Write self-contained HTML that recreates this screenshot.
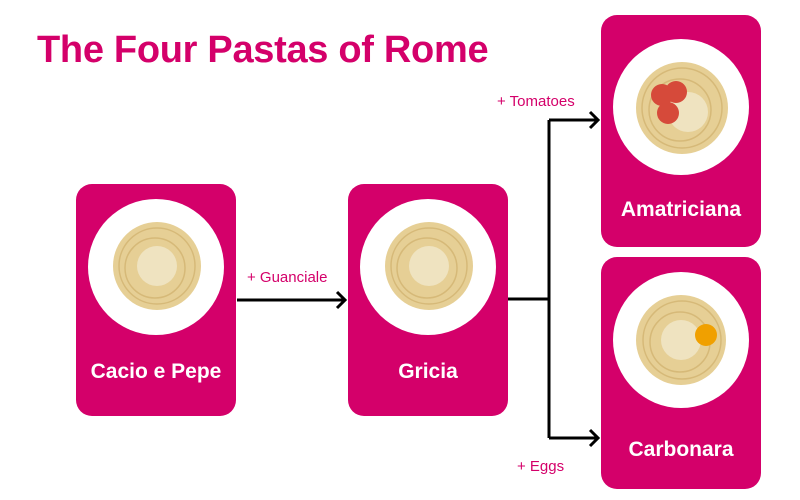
<!DOCTYPE html>
<html><head><style>
body{margin:0;width:800px;height:500px;background:#fff;position:relative;overflow:hidden;font-family:"Liberation Sans",sans-serif}
.t{position:absolute;left:37px;top:29px;font-size:38px;font-weight:bold;color:#d4006a;letter-spacing:-0.3px}
.c{position:absolute;width:160px;height:232px;background:#d4006a;border-radius:16px}
.p{position:absolute;width:136px;height:136px;border-radius:50%;background:#fff;left:12px}
.n{position:absolute;left:0;width:160px;text-align:center;color:#fff;font-size:21px;font-weight:bold}
.l{position:absolute;color:#d4006a;font-size:15px}
</style></head><body>
<div class="t">The Four Pastas of Rome</div>
<div class="c" style="left:76px;top:184px"><div class="p" style="top:15px"></div><div class="n" style="top:176px">Cacio e Pepe</div></div>
<div class="c" style="left:348px;top:184px"><div class="p" style="top:15px"></div><div class="n" style="top:176px">Gricia</div></div>
<div class="c" style="left:601px;top:15px"><div class="p" style="top:24px"></div><div class="n" style="top:183px">Amatriciana</div></div>
<div class="c" style="left:601px;top:257px"><div class="p" style="top:15px"></div><div class="n" style="top:181px">Carbonara</div></div>
<svg width="800" height="500" style="position:absolute;left:0;top:0">
<g fill="#e6cf95"><circle cx="157" cy="266" r="44"/><circle cx="429" cy="266" r="44"/><circle cx="682" cy="108" r="46"/><circle cx="681" cy="340" r="45"/></g>
<g fill="none" stroke="#d6b978" stroke-width="1.5">
<circle cx="157" cy="266" r="38"/><circle cx="155" cy="268" r="30"/>
<circle cx="429" cy="266" r="38"/><circle cx="427" cy="268" r="30"/>
<circle cx="682" cy="108" r="40"/><circle cx="680" cy="110" r="31"/>
<circle cx="682" cy="340" r="39"/><circle cx="680" cy="342" r="30"/>
</g>
<g fill="#efe3c0"><circle cx="157" cy="266" r="20"/><circle cx="429" cy="266" r="20"/><circle cx="688" cy="112" r="20"/><circle cx="681" cy="340" r="20"/></g>
<g fill="#d64a3a"><circle cx="662" cy="95" r="11"/><circle cx="676" cy="92" r="11"/><circle cx="668" cy="113" r="11"/></g>
<circle cx="706" cy="335" r="11" fill="#f0a000"/>
<g fill="none" stroke="#000" stroke-width="3">
<path d="M237 300H345M337 292l8 8-8 8"/>
<path d="M508 299H549M549 120V438M549 120H598M590 112l8 8-8 8M549 438H598M590 430l8 8-8 8"/>
</g>
</svg>
<div class="l" style="left:247px;top:269px">+ Guanciale</div>
<div class="l" style="left:497px;top:93px">+ Tomatoes</div>
<div class="l" style="left:517px;top:458px">+ Eggs</div>
</body></html>
